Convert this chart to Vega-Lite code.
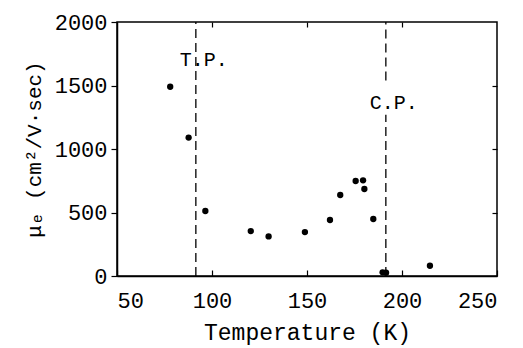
{
  "$schema": "https://vega.github.io/schema/vega-lite/v6.json",
  "width": 380,
  "height": 254,
  "autosize": "none",
  "padding": {"left": 117, "top": 22, "right": 26, "bottom": 72},
  "background": "white",
  "config": {
    "view": {"stroke": "black", "strokeWidth": 1.5},
    "axis": {
      "grid": false,
      "domainColor": "black",
      "domainWidth": 1.5,
      "tickColor": "black",
      "tickWidth": 1.2,
      "labelColor": "black",
      "labelFont": "Liberation Mono",
      "labelFontSize": 22,
      "titleColor": "black",
      "titleFont": "Liberation Mono",
      "titleFontWeight": "normal",
      "titleFontSize": 23
    }
  },
  "datasets": {
    "points": [
      {"T": 78, "mu": 1490},
      {"T": 87.7, "mu": 1090},
      {"T": 96.5, "mu": 512},
      {"T": 120.4, "mu": 354},
      {"T": 129.8, "mu": 312},
      {"T": 148.9, "mu": 346},
      {"T": 162.1, "mu": 441},
      {"T": 167.5, "mu": 638},
      {"T": 175.6, "mu": 748},
      {"T": 179.5, "mu": 753},
      {"T": 180.2, "mu": 685},
      {"T": 184.9, "mu": 449},
      {"T": 189.8, "mu": 29},
      {"T": 191.6, "mu": 26},
      {"T": 214.7, "mu": 81}
    ],
    "rules": [
      {"T": 91.5, "y0": 0, "y1": 2000},
      {"T": 191.5, "y0": 0, "y1": 1270},
      {"T": 191.5, "y0": 1540, "y1": 2000}
    ],
    "labels": [
      {"T": 83, "mu": 1700, "label": "T.P."},
      {"T": 183, "mu": 1362, "label": "C.P."}
    ]
  },
  "layer": [
    {
      "data": {"name": "points"},
      "mark": {"type": "circle", "color": "black", "opacity": 1, "size": 40},
      "encoding": {
        "x": {
          "field": "T", "type": "quantitative",
          "scale": {"domain": [50, 250], "nice": false, "zero": false},
          "axis": {"values": [50, 100, 150, 200, 250], "format": "d", "tickSize": -6, "labelPadding": 20, "title": "Temperature (K)", "titlePadding": 10}
        },
        "y": {
          "field": "mu", "type": "quantitative",
          "scale": {"domain": [0, 2000], "nice": false},
          "axis": {"values": [0, 500, 1000, 1500, 2000], "format": "d", "tickSize": 6, "labelPadding": 4, "title": "μₑ (cm²/V·sec)", "titlePadding": 10, "titleFontSize": 21}
        }
      }
    },
    {
      "data": {"name": "rules"},
      "mark": {"type": "rule", "color": "black", "strokeWidth": 1.3, "strokeDash": [9, 5]},
      "encoding": {
        "x": {"field": "T", "type": "quantitative", "axis": {"orient": "top", "labels": false, "domain": false, "title": null, "values": [100, 150, 200], "tickSize": -5}},
        "y": {"field": "y0", "type": "quantitative", "axis": {"orient": "right", "labels": false, "domain": false, "title": null, "values": [500, 1000, 1500], "tickSize": -5}},
        "y2": {"field": "y1"}
      }
    },
    {
      "data": {"name": "labels"},
      "mark": {"type": "text", "align": "left", "baseline": "middle", "font": "Liberation Mono", "fontSize": 20, "color": "black"},
      "encoding": {
        "x": {"field": "T", "type": "quantitative", "axis": null},
        "y": {"field": "mu", "type": "quantitative", "axis": null},
        "text": {"field": "label"}
      }
    }
  ],
  "resolve": {"axis": {"x": "independent", "y": "independent"}}
}
